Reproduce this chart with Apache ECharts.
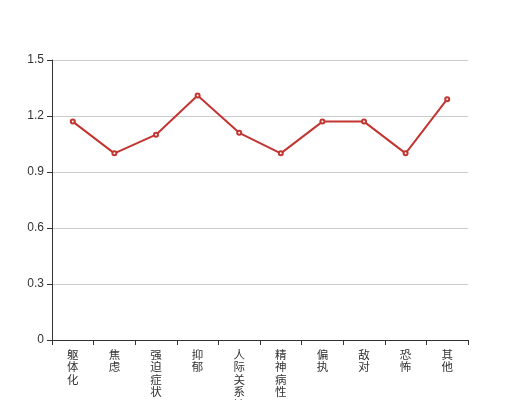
<!DOCTYPE html>
<html><head><meta charset="utf-8">
<script src="https://cdn.jsdelivr.net/npm/echarts@6/dist/echarts.min.js"></script>
<style>html,body{margin:0;padding:0;background:#fff}#c{width:520px;height:400px}</style>
</head><body><div id="c"></div>
<script>
var categories = ['躯体化','焦虑','强迫症状','抑郁','人际关系敏感','精神病性','偏执','敌对','恐怖','其他'];
var values = [1.17, 1.00, 1.10, 1.31, 1.11, 1.00, 1.17, 1.17, 1.00, 1.29];
var chart = echarts.init(document.getElementById('c'), null, {renderer:'canvas'});
chart.setOption({
  animation:false,
  grid:{left:52,right:52,top:60,bottom:60,containLabel:false,outerBoundsMode:'none'},
  xAxis:{type:'category',data:categories,boundaryGap:true,
    axisLine:{lineStyle:{color:'#333'}},
    axisTick:{show:true,alignWithLabel:false,interval:0,lineStyle:{color:'#333'}},
    axisLabel:{color:'#333',fontSize:11.5,interval:0,fontFamily:'Noto Sans CJK SC',lineHeight:12.5,
      formatter:function(v){return v.split('').join('\n');}}},
  yAxis:{type:'value',min:0,max:1.5,interval:0.3,
    axisLine:{show:true,lineStyle:{color:'#333'}},
    axisTick:{show:true,lineStyle:{color:'#333'}},
    axisLabel:{color:'#333',fontSize:12,formatter:function(v){return (Math.round(v*10)/10).toString();}},
    splitLine:{lineStyle:{color:'#ccc'}}},
  series:[{type:'line',data:values,symbol:'emptyCircle',symbolSize:4,
    itemStyle:{color:'#c23531'},lineStyle:{color:'#c23531',width:2}}]
});
</script></body></html>
